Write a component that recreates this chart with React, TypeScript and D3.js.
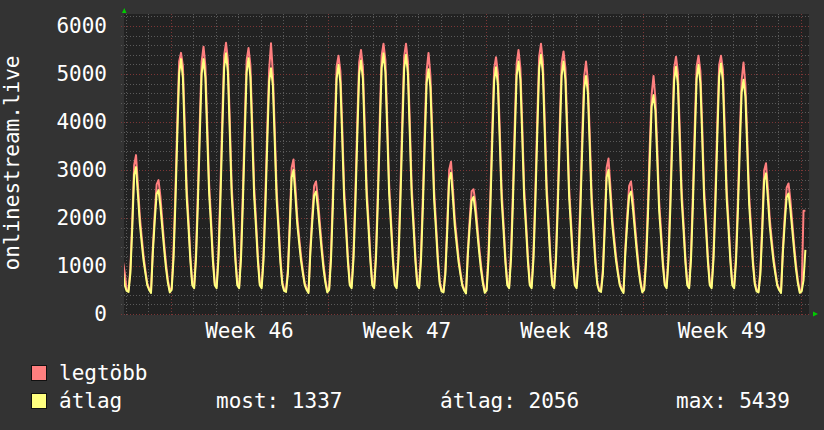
import { useMemo } from "react";
import * as d3 from "d3";

const W = 824;
const H = 430;

// one row per day, samples at these UTC hours
const sampleHours = [1, 3, 5, 7, 9, 11, 13, 15, 17, 19, 21, 23];
const firstDay = "2021-11-12";
const viewStart = "2021-11-12T22:11:00Z";
const viewEnd = "2021-12-13T08:51:00Z";

const _ = null;

const legtobb: (number | null)[][] = [
  [_, _, _, _, _, _, _, _, _, _, 1100, 850],
  [510, 490, 950, 1950, 3100, 3310, 2700, 2050, 1620, 1220, 910, 640],
  [530, 470, 1400, 2100, 2700, 2790, 2450, 1950, 1470, 1050, 710, 490],
  [540, 1300, 2550, 4000, 5260, 5440, 5170, 3950, 2650, 1950, 1200, 650],
  [580, 1300, 2550, 4000, 5260, 5570, 5170, 3950, 2700, 2000, 1200, 650],
  [580, 1320, 2600, 4090, 5380, 5650, 5290, 4040, 2700, 1980, 1220, 650],
  [580, 1300, 2560, 4020, 5290, 5540, 5190, 3970, 2660, 1950, 1200, 650],
  [580, 1270, 2480, 3880, 5090, 5640, 5000, 3830, 2580, 1900, 1180, 670],
  [510, 490, 940, 1930, 3050, 3220, 2660, 2020, 1600, 1210, 900, 640],
  [530, 470, 1390, 2070, 2670, 2760, 2410, 1920, 1450, 1040, 710, 490],
  [540, 1280, 2510, 3930, 5160, 5380, 5060, 3880, 2600, 1920, 1190, 650],
  [580, 1300, 2540, 3990, 5240, 5500, 5150, 3940, 2640, 1940, 1200, 650],
  [580, 1320, 2600, 4090, 5380, 5630, 5290, 4040, 2700, 1980, 1220, 650],
  [580, 1310, 2590, 4070, 5360, 5630, 5260, 4020, 2690, 1970, 1210, 650],
  [580, 1270, 2480, 3870, 5070, 5440, 4980, 3820, 2570, 1890, 1180, 670],
  [500, 480, 930, 1900, 3000, 3170, 2620, 1990, 1580, 1190, 890, 630],
  [520, 460, 1350, 2000, 2560, 2600, 2330, 1860, 1410, 1020, 700, 480],
  [530, 1280, 2490, 3900, 5110, 5350, 5020, 3850, 2580, 1900, 1180, 650],
  [580, 1290, 2540, 3980, 5220, 5500, 5130, 3930, 2630, 1940, 1200, 650],
  [580, 1310, 2590, 4070, 5360, 5630, 5260, 4020, 2690, 1970, 1210, 650],
  [580, 1290, 2540, 3980, 5220, 5470, 5130, 3930, 2630, 1940, 1200, 650],
  [580, 1250, 2420, 3780, 4940, 5260, 4850, 3730, 2510, 1850, 1160, 670],
  [510, 490, 940, 1930, 3050, 3240, 2660, 2020, 1600, 1210, 900, 640],
  [530, 470, 1390, 2070, 2670, 2760, 2410, 1920, 1450, 1040, 710, 490],
  [540, 1200, 2270, 3510, 4570, 4960, 4490, 3460, 2350, 1750, 1110, 650],
  [580, 1280, 2490, 3900, 5120, 5360, 5030, 3850, 2590, 1910, 1180, 650],
  [580, 1280, 2510, 3930, 5160, 5380, 5060, 3880, 2600, 1920, 1190, 650],
  [580, 1290, 2520, 3950, 5190, 5380, 5090, 3900, 2620, 1920, 1190, 650],
  [580, 1240, 2390, 3720, 4870, 5240, 4780, 3670, 2480, 1830, 1150, 670],
  [500, 480, 930, 1890, 2990, 3140, 2610, 1980, 1570, 1190, 890, 630],
  [530, 470, 1380, 2050, 2630, 2720, 2380, 1900, 1440, 1030, 700, 480],
  [500, 2150, 2150, _, _, _, _, _, _, _, _, _],
];

const atlag: (number | null)[][] = [
  [_, _, _, _, _, _, _, _, _, _, 900, 600],
  [480, 460, 850, 1800, 2900, 3060, 2500, 1900, 1500, 1120, 850, 600],
  [500, 440, 1300, 1950, 2500, 2580, 2250, 1800, 1350, 950, 650, 450],
  [500, 1150, 2300, 3700, 5010, 5310, 4920, 3700, 2450, 1800, 1100, 600],
  [540, 1150, 2300, 3700, 5010, 5310, 4920, 3700, 2500, 1850, 1100, 600],
  [540, 1170, 2350, 3790, 5130, 5430, 5040, 3790, 2500, 1830, 1120, 600],
  [540, 1150, 2310, 3720, 5040, 5330, 4940, 3720, 2460, 1800, 1100, 600],
  [540, 1120, 2230, 3580, 4840, 5120, 4750, 3580, 2380, 1750, 1080, 620],
  [480, 460, 840, 1780, 2850, 3000, 2460, 1870, 1480, 1110, 840, 600],
  [500, 440, 1290, 1920, 2470, 2550, 2210, 1770, 1330, 940, 650, 450],
  [500, 1130, 2260, 3630, 4910, 5190, 4810, 3630, 2400, 1770, 1090, 600],
  [540, 1150, 2290, 3690, 4990, 5280, 4900, 3690, 2440, 1790, 1100, 600],
  [540, 1170, 2350, 3790, 5130, 5430, 5040, 3790, 2500, 1830, 1120, 600],
  [540, 1160, 2340, 3770, 5110, 5400, 5010, 3770, 2490, 1820, 1110, 600],
  [540, 1120, 2230, 3570, 4820, 5100, 4730, 3570, 2370, 1740, 1080, 620],
  [470, 450, 830, 1750, 2800, 2940, 2420, 1840, 1460, 1090, 830, 590],
  [490, 430, 1250, 1850, 2360, 2440, 2130, 1710, 1290, 920, 640, 440],
  [490, 1130, 2240, 3600, 4860, 5140, 4770, 3600, 2380, 1750, 1080, 600],
  [540, 1140, 2290, 3680, 4970, 5260, 4880, 3680, 2430, 1790, 1100, 600],
  [540, 1160, 2340, 3770, 5110, 5400, 5010, 3770, 2490, 1820, 1110, 600],
  [540, 1140, 2290, 3680, 4970, 5260, 4880, 3680, 2430, 1790, 1100, 600],
  [540, 1100, 2170, 3480, 4690, 4960, 4600, 3480, 2310, 1700, 1060, 620],
  [480, 460, 840, 1780, 2850, 3000, 2460, 1870, 1480, 1110, 840, 600],
  [500, 440, 1290, 1920, 2470, 2550, 2210, 1770, 1330, 940, 650, 450],
  [500, 1050, 2020, 3210, 4320, 4560, 4240, 3210, 2150, 1600, 1010, 600],
  [540, 1130, 2240, 3600, 4870, 5150, 4780, 3600, 2390, 1760, 1080, 600],
  [540, 1130, 2260, 3630, 4910, 5190, 4810, 3630, 2400, 1770, 1090, 600],
  [540, 1140, 2270, 3650, 4940, 5220, 4840, 3650, 2420, 1770, 1090, 600],
  [540, 1090, 2140, 3420, 4620, 4880, 4530, 3420, 2280, 1680, 1050, 620],
  [470, 450, 830, 1740, 2790, 2930, 2410, 1830, 1450, 1090, 830, 590],
  [500, 440, 1280, 1900, 2430, 2510, 2180, 1750, 1320, 930, 640, 440],
  [470, 700, 1337, _, _, _, _, _, _, _, _, _],
];

const yTicks = [0, 1000, 2000, 3000, 4000, 5000, 6000];
const yMinorStep = 200;
const yMax = 6250;

const series = [
  { name: "legtöbb", color: "#ff7f7f", rows: legtobb },
  { name: "átlag", color: "#ffff7f", rows: atlag },
];
const summary = [
  { label: "most", value: 1337 },
  { label: "átlag", value: 2056 },
  { label: "max", value: 5439 },
];

const FONT = "'DejaVu Sans Mono', monospace";
const BG = "#333333";
const CANVAS = "#222222";
const GRID = "#5a5a5a";
const MGRID = "#7c3636";

type Pt = { t: Date; v: number | null };

export default function App() {
  const left = 124, right = 809, top = 14, bottom = 314;

  const x = useMemo(
    () => d3.scaleUtc().domain([new Date(viewStart), new Date(viewEnd)]).range([left, right]),
    []
  );
  const y = useMemo(() => d3.scaleLinear().domain([0, yMax]).range([bottom, top]), []);

  const day0 = new Date(firstDay + "T00:00:00Z");
  const toPoints = (rows: (number | null)[][]): Pt[] =>
    rows.flatMap((row, i) =>
      row.map((v, j) => ({ t: d3.utcHour.offset(d3.utcDay.offset(day0, i), sampleHours[j]), v }))
    );

  const line = d3.line<Pt>()
    .defined((d) => d.v != null)
    .x((d) => x(d.t))
    .y((d) => y(d.v as number));

  const [d0, d1] = x.domain();
  const days = d3.utcDay.range(d0, d1);
  const mondays = d3.utcMonday.range(d0, d1);
  const weekFmt = d3.utcFormat("%V");
  const yMinor = d3.range(0, yMax, yMinorStep).filter((v) => v % 1000 !== 0);

  return (
    <svg width={W} height={H} style={{ position: "absolute", left: 0, top: 0, display: "block" }}
      fontFamily={FONT}>
      <defs>
        <clipPath id="plot">
          <rect x={left} y={top} width={right - left} height={bottom - top} />
        </clipPath>
      </defs>
      <rect width={W} height={H} fill={BG} />
      <rect x={left} y={top} width={right - left} height={bottom - top + 1} fill={CANVAS} />

      {/* grid */}
      <g strokeDasharray="1 2" strokeWidth={1}>
        {yMinor.map((v) => (
          <line key={"ym" + v} x1={left - 3} x2={right} y1={Math.round(y(v)) + 0.5} y2={Math.round(y(v)) + 0.5} stroke={GRID} />
        ))}
        {days.filter((d) => d.getUTCDay() !== 1).map((d) => (
          <line key={"xm" + +d} x1={Math.round(x(d)) + 0.5} x2={Math.round(x(d)) + 0.5} y1={top} y2={bottom + 3} stroke={GRID} />
        ))}
        {yTicks.map((v) => (
          <line key={"yM" + v} x1={left - 3} x2={right} y1={Math.round(y(v)) + 0.5} y2={Math.round(y(v)) + 0.5} stroke={MGRID} />
        ))}
        {mondays.map((d) => (
          <line key={"xM" + +d} x1={Math.round(x(d)) + 0.5} x2={Math.round(x(d)) + 0.5} y1={top} y2={bottom + 3} stroke={MGRID} />
        ))}
      </g>

      {/* lines: max below avg */}
      <g clipPath="url(#plot)" fill="none" strokeWidth={2} strokeLinejoin="round">
        {series.map((s) => (
          <path key={s.name} d={line(toPoints(s.rows)) ?? ""} stroke={s.color} />
        ))}
      </g>

      {/* arrows */}
      <path d={`M${left - 2},${top - 1} L${left + 2.5},${top - 1} L${left + 0.25},${top - 6} Z`} fill="#00cc00" />
      <path d={`M${right + 4},${bottom - 2.5} L${right + 4},${bottom + 2.5} L${right + 9},${bottom} Z`} fill="#00cc00" />

      {/* y labels */}
      <g fill="#ffffff" fontSize={21} textAnchor="end">
        {yTicks.map((v) => (
          <text key={v} x={107} y={y(v)} dy="0.35em">{v}</text>
        ))}
      </g>
      <text transform={`translate(18.5, 163) rotate(-90)`} textAnchor="middle" fill="#ffffff" fontSize={21}>
        onlinestream.live
      </text>

      {/* week labels */}
      <g fill="#ffffff" fontSize={21} textAnchor="middle">
        {mondays.map((m) => {
          const cx = x(d3.utcHour.offset(m, 84));
          if (cx > right) return null;
          return <text key={+m} x={cx} y={338}>{`Week ${+weekFmt(m)}`}</text>;
        })}
      </g>

      {/* legend */}
      <g fontSize={21} fill="#ffffff">
        {series.map((s, i) => (
          <g key={s.name} transform={`translate(0, ${i * 28})`}>
            <rect x={31.5} y={365.5} width={15} height={15} fill={s.color} stroke="#111" strokeWidth={1} />
            <text x={59} y={380}>{s.name}</text>
          </g>
        ))}
        {summary.map((s, i) => (
          <text key={s.label} x={[216, 440, 676][i]} y={408}>{`${s.label}: ${s.value}`}</text>
        ))}
      </g>
    </svg>
  );
}
